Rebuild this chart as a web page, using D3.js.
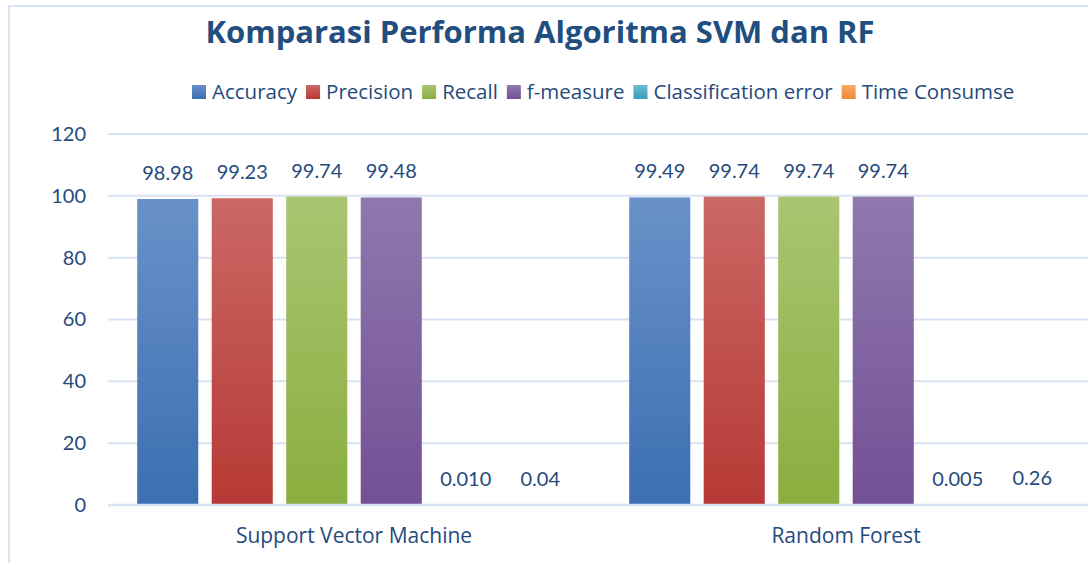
<!DOCTYPE html>
<html>
<head>
<meta charset="utf-8">
<script src="https://cdn.jsdelivr.net/npm/d3@7"></script>
<style>
  body { margin: 0; background: #fff; }
</style>
</head>
<body>
<svg width="1088" height="563"></svg>
<script>
const categories = ["Support Vector Machine", "Random Forest"];
const series = ["Accuracy", "Precision", "Recall", "f-measure", "Classification error", "Time Consumse"];
const svmValues = [98.98, 99.23, 99.74, 99.48, 0.010, 0.04];
const rfValues = [99.49, 99.74, 99.74, 99.74, 0.005, 0.26];
const valueLabels = [
    ["98.98", "99.23", "99.74", "99.48", "0.010", "0.04"],
    ["99.49", "99.74", "99.74", "99.74", "0.005", "0.26"]
];
const yTicks = [0, 20, 40, 60, 80, 100, 120];

// top / bottom colour of each bar gradient
const colors = [
    ["#6A91C9", "#3A6FB1"],
    ["#CA6864", "#B73935"],
    ["#A9C571", "#8AAE3F"],
    ["#9078AD", "#725095"],
    ["#6CBDD4", "#3A9DBA"],
    ["#F9AA6B", "#F08830"]
];

const svg = d3.select("svg");
const margin = {left: 108, right: -4, top: 134, bottom: 58};
const W = 1088, H = 563;
const wordFont = "'Open Sans', sans-serif";
const numFont = "Lato, sans-serif";
const textColor = "#254A7C";

const x0 = d3.scaleBand()
    .domain(categories)
    .range([margin.left, W - margin.right]);

const x1 = d3.scaleBand()
    .domain(series)
    .range([22.5, 469.5])
    .paddingInner(0.18)
    .paddingOuter(0.09);

const y = d3.scaleLinear()
    .domain([0, 120])
    .range([H - margin.bottom, margin.top]);

// chart border
svg.append("rect")
    .attr("x", 9).attr("y", 6)
    .attr("width", 1200).attr("height", 700)
    .attr("fill", "none")
    .attr("stroke", "#DAE3F3")
    .attr("stroke-width", 2);

// gradients
const defs = svg.append("defs");
colors.forEach((c, i) => {
    const g = defs.append("linearGradient")
        .attr("id", "grad" + i)
        .attr("x1", 0).attr("y1", 0).attr("x2", 0).attr("y2", 1);
    g.append("stop").attr("offset", "0%").attr("stop-color", c[0]);
    g.append("stop").attr("offset", "100%").attr("stop-color", c[1]);
});

// grid lines (the zero line is drawn over the bars later)
svg.append("g")
    .selectAll("line")
    .data(yTicks.filter(d => d > 0))
    .join("line")
      .attr("x1", margin.left)
      .attr("x2", W)
      .attr("y1", d => y(d))
      .attr("y2", d => y(d))
      .attr("stroke", "#D9E2F2")
      .attr("stroke-width", 2);

// y axis labels
const yAxis = svg.append("g")
    .attr("transform", `translate(${margin.left - 4},0)`)
    .call(d3.axisLeft(y).tickValues(yTicks).tickSize(0).tickPadding(18));
yAxis.select(".domain").remove();
yAxis.selectAll("text")
    .style("font-size", "20px")
    .style("font-family", numFont)
    .style("fill", textColor);

// x axis labels
const xAxis = svg.append("g")
    .attr("transform", `translate(0,${y(0)})`)
    .call(d3.axisBottom(x0).tickSize(0).tickPadding(23));
xAxis.select(".domain").remove();
xAxis.selectAll("text")
    .style("font-size", "21px")
    .style("font-family", wordFont)
    .style("fill", textColor);

// bars
const data = categories.map((c, ci) => ({
    cat: c,
    values: (ci === 0 ? svmValues : rfValues).map((v, si) => ({key: series[si], value: v, si, label: valueLabels[ci][si]}))
}));

const groups = svg.append("g")
    .selectAll("g")
    .data(data)
    .join("g")
      .attr("transform", d => `translate(${x0(d.cat)},0)`);

groups.selectAll("rect")
    .data(d => d.values)
    .join("rect")
      .attr("x", d => x1(d.key))
      .attr("width", x1.bandwidth())
      .attr("y", d => y(d.value))
      .attr("height", d => y(0) - y(d.value))
      .attr("fill", d => `url(#grad${d.si})`);

groups.selectAll("text")
    .data(d => d.values)
    .join("text")
      .attr("x", d => x1(d.key) + x1.bandwidth() / 2)
      .attr("y", d => y(d.value) - 19)
      .attr("text-anchor", "middle")
      .style("font-size", "20px")
      .style("font-family", numFont)
      .style("fill", textColor)
      .text(d => d.label);

// horizontal axis line
svg.append("line")
    .attr("x1", margin.left)
    .attr("x2", W)
    .attr("y1", y(0))
    .attr("y2", y(0))
    .attr("stroke", "#D9E2F2")
    .attr("stroke-width", 2.5);

// title
svg.append("text")
    .attr("x", 540)
    .attr("y", 43)
    .attr("text-anchor", "middle")
    .style("font-size", "31px")
    .style("font-weight", "bold")
    .style("font-family", wordFont)
    .style("fill", "#1F4E7F")
    .text("Komparasi Performa Algoritma SVM dan RF");

// legend
const legend = svg.append("g").attr("transform", "translate(192,85)");
let lx = 0;
series.forEach((s, i) => {
    const item = legend.append("g").attr("transform", `translate(${lx},0)`);
    item.append("rect")
        .attr("width", 14).attr("height", 14)
        .attr("fill", `url(#grad${i})`);
    const t = item.append("text")
        .attr("x", 20)
        .attr("y", 14)
        .style("font-size", "20.5px")
        .style("font-family", wordFont)
        .style("fill", textColor)
        .text(s);
    lx += 20 + t.node().getComputedTextLength() + 9;
});
</script>
</body>
</html>
